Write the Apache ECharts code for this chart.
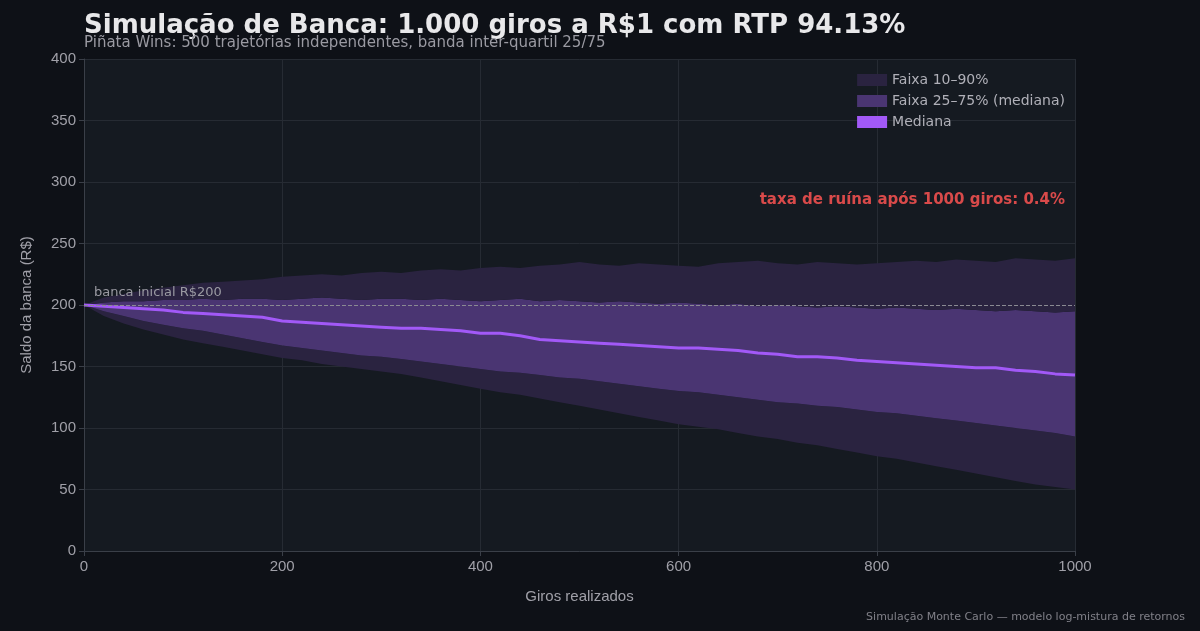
<!DOCTYPE html><html><head><meta charset="utf-8"><script src="https://cdn.jsdelivr.net/npm/echarts@6/dist/echarts.min.js"></script>
<style>html,body{margin:0;background:#0e1117}#c{width:1200px;height:631px}</style></head><body><div id="c"></div><script>
const giros=[];for(let i=0;i<=50;i++)giros.push(String(i*20));
const p10=[200,191,185,180,176,172,169,166,163,160,157,155,152,150,148,146,144,141,138,135,132,129,127,124,121,118,115,112,109,106,103,101,99,96,93,91,88,86,83,80,77,75,72,69,66,63,60,57,54,52,50];
const p25=[200,195,191,187,184,181,179,176,173,170,167,165,163,161,159,158,156,154,152,150,148,146,145,143,141,140,138,136,134,132,130,129,127,125,123,121,120,118,117,115,113,112,110,108,106,104,102,100,98,96,93];
const p50=[200,199,198,197,196,194,193,192,191,190,187,186,185,184,183,182,181,181,180,179,177,177,175,172,171,170,169,168,167,166,165,165,164,163,161,160,158,158,157,155,154,153,152,151,150,149,149,147,146,144,143];
const p75=[200,202,203,203,204,204,205,204,205,205,204,205,206,205,204,205,205,204,205,204,203,204,205,203,204,203,202,203,202,201,202,201,200,201,199,200,199,198,199,198,197,198,197,196,197,196,195,196,195,194,195];
const p90=[200,206,209,212,214,216,218,219,220,221,223,224,225,224,226,227,226,228,229,228,230,231,230,232,233,235,233,232,234,233,232,231,234,235,236,234,233,235,234,233,234,235,236,235,237,236,235,238,237,236,238];
const diff=(a,b)=>a.map((v,i)=>v-b[i]);
const outer='#2a2340',inner='#4a3572',med='#a259f7';
const ch=echarts.init(document.getElementById('c'));
const base={type:'line',stack:'b',symbol:'none',lineStyle:{width:0},silent:true};
const every200=(i,v)=>Number(v)%200===0;
ch.setOption({backgroundColor:'#0e1117',animation:false,
title:[{text:'Simulação de Banca: 1.000 giros a R$1 com RTP 94.13%',left:79,top:8,textStyle:{color:'#e8e8ea',fontSize:26,fontWeight:'bold',fontFamily:'DejaVu Sans'}},
{text:'Piñata Wins: 500 trajetórias independentes, banda inter-quartil 25/75',left:79,top:31,textStyle:{color:'#9a9aa2',fontSize:15,fontWeight:'normal',fontFamily:'DejaVu Sans'}},
{text:'Simulação Monte Carlo — modelo log-mistura de retornos',right:10,top:607,textStyle:{color:'#808088',fontSize:11,fontWeight:'normal',fontFamily:'DejaVu Sans'}},
{text:'banca inicial R$200',left:89,top:281,textStyle:{color:'#9a9aa2',fontSize:13,fontWeight:'normal',fontFamily:'DejaVu Sans'}},
{text:'taxa de ruína após 1000 giros: 0.4%',right:130,top:188,textStyle:{color:'#d94a4a',fontSize:15,fontWeight:'bold',fontFamily:'DejaVu Sans'}}],
legend:{right:130,top:68,orient:'vertical',itemGap:7,textStyle:{color:'#b0b0b8',fontSize:14,fontFamily:'DejaVu Sans'},itemWidth:30,itemHeight:12,
data:[{name:'Faixa 10–90%',icon:'rect',itemStyle:{color:outer}},{name:'Faixa 25–75% (mediana)',icon:'rect',itemStyle:{color:inner}},{name:'Mediana',icon:'rect',itemStyle:{color:med}}]},
grid:{left:84,right:125,top:59,bottom:80,backgroundColor:'#151a21',show:true,borderWidth:0},
xAxis:{type:'category',data:giros,boundaryGap:false,name:'Giros realizados',nameLocation:'middle',nameGap:38,nameTextStyle:{color:'#a0a0a8',fontSize:15},
axisLabel:{color:'#a0a0a8',fontSize:15,interval:every200},axisLine:{lineStyle:{color:'#3a3f48'}},axisTick:{show:true,interval:every200,lineStyle:{color:'#3a3f48'}},splitLine:{show:true,interval:every200,lineStyle:{color:'#262b33'}}},
yAxis:{type:'value',min:0,max:400,interval:50,name:'Saldo da banca (R$)',nameLocation:'middle',nameGap:50,nameTextStyle:{color:'#a0a0a8',fontSize:15},
axisLabel:{color:'#a0a0a8',fontSize:15},axisLine:{show:true,lineStyle:{color:'#3a3f48'}},axisTick:{show:true,lineStyle:{color:'#3a3f48'}},splitLine:{lineStyle:{color:'#262b33'}}},
series:[
{...base,name:'base',data:p10,areaStyle:{opacity:0}},
{...base,name:'Faixa 10–90%',data:diff(p25,p10),areaStyle:{color:outer,opacity:1}},
{...base,name:'Faixa 25–75% (mediana)',data:diff(p75,p25),areaStyle:{color:inner,opacity:1}},
{...base,name:'Faixa 10–90% sup',data:diff(p90,p75),areaStyle:{color:outer,opacity:1}},
{type:'line',name:'Mediana',data:p50,symbol:'none',lineStyle:{color:med,width:3},itemStyle:{color:med},
markLine:{silent:true,symbol:'none',lineStyle:{color:'#8a8a92',type:'dashed',width:1},label:{show:false},data:[{yAxis:200}]}}
]});
</script></body></html>
